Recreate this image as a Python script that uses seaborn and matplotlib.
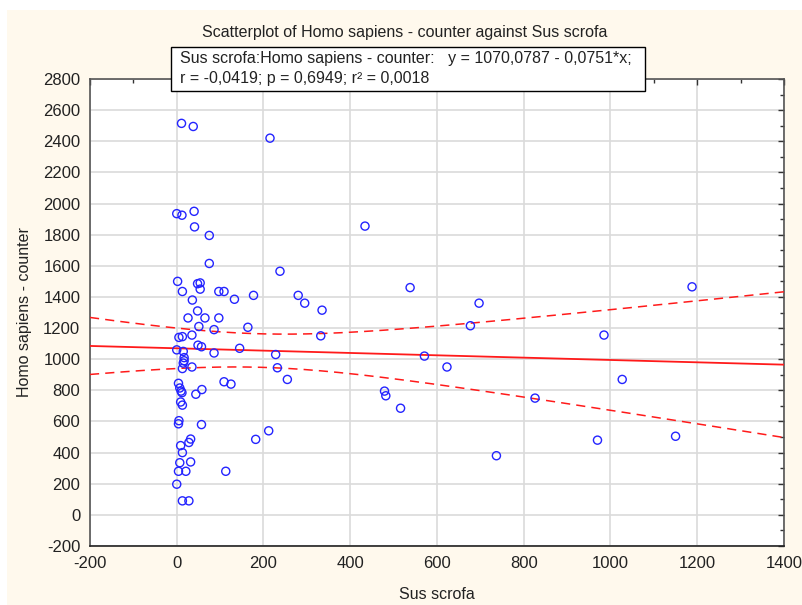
import numpy as np
import pandas as pd
import matplotlib
matplotlib.use("Agg")
import matplotlib.pyplot as plt
from matplotlib.patches import Rectangle
from matplotlib.ticker import MultipleLocator
import seaborn as sns

# Observations: Sus scrofa counts vs Homo sapiens - counter
sus_scrofa = [11, 38, 215, 0, 12, 40, 41, 75, 75, 238, 434, 2, 48, 54, 54, 13,
              97, 109, 177, 280, 295, 335, 538, 1188, 697, 677, 36, 48, 133, 26,
              65, 97, 51, 164, 86, 35, 5, 13, 332, 985, 49, 57, 0, 15, 86, 145,
              228, 571, 17, 17, 15, 13, 35, 232, 623, 255, 1027, 109, 125, 4, 7,
              10, 12, 58, 44, 479, 482, 516, 826, 9, 13, 5, 4, 57, 212, 182, 32,
              28, 9, 13, 970, 1150, 737, 32, 7, 4, 21, 113, 0, 13, 28]
homo_sapiens = [2515, 2495, 2420, 1935, 1925, 1950, 1850, 1795, 1615, 1565, 1855,
                1500, 1485, 1490, 1450, 1435, 1435, 1435, 1410, 1410, 1360, 1315,
                1460, 1465, 1360, 1215, 1380, 1310, 1385, 1265, 1265, 1265, 1210,
                1205, 1190, 1155, 1140, 1145, 1150, 1155, 1090, 1080, 1060, 1050,
                1040, 1070, 1030, 1020, 1010, 990, 975, 940, 950, 945, 950, 870,
                870, 855, 840, 845, 815, 795, 785, 805, 775, 795, 765, 685, 750,
                725, 705, 605, 585, 580, 540, 485, 487, 465, 445, 400, 480, 505,
                380, 340, 335, 280, 280, 280, 197, 90, 90]

# Reported linear fit
intercept = 1070.0787
slope = -0.0751
x_ticks = list(range(-200, 1401, 200))
y_ticks = list(range(-200, 2801, 200))

df = pd.DataFrame({"Sus scrofa": sus_scrofa, "Homo sapiens - counter": homo_sapiens})

# 95% confidence band for the mean prediction around the fitted line
x = np.asarray(sus_scrofa, float)
y = np.asarray(homo_sapiens, float)
n = len(x)
resid = y - (intercept + slope * x)
s = np.sqrt(np.sum(resid ** 2) / (n - 2))
sxx = np.sum((x - x.mean()) ** 2)
t_crit = 1.987
xs = np.linspace(-200, 1400, 200)
fit = intercept + slope * xs
half = t_crit * s * np.sqrt(1.0 / n + (xs - x.mean()) ** 2 / sxx)
band = pd.DataFrame({"x": xs, "fit": fit, "lo": fit - half, "hi": fit + half})

sns.set_style("white")
plt.rcParams["font.family"] = ["Liberation Sans", "DejaVu Sans"]
plt.rcParams["axes.unicode_minus"] = False

fig = plt.figure(figsize=(8.03, 6.05), dpi=100, facecolor="white")
fig.patches.append(Rectangle((7 / 803, 0), 1 - 7 / 803, 1 - 10 / 605,
                             transform=fig.transFigure, facecolor="#FFF9ED",
                             edgecolor="none", zorder=-10))

ax = fig.add_axes([90 / 803, 1 - 546 / 605, (784 - 90) / 803, (546 - 79) / 605])
ax.set_facecolor("white")

sns.scatterplot(data=df, x="Sus scrofa", y="Homo sapiens - counter", ax=ax,
                marker="o", s=34, color="#2424FF", linewidth=1.0, zorder=4)
pts = ax.collections[0]
pts.set_facecolor("none")
pts.set_edgecolor("#2424FF")

sns.lineplot(data=band, x="x", y="fit", ax=ax, color="#FF1A1A", linewidth=1.3, zorder=3)
sns.lineplot(data=band, x="x", y="hi", ax=ax, color="#FF1A1A", linewidth=1.1,
             linestyle=(0, (6, 4)), zorder=3)
sns.lineplot(data=band, x="x", y="lo", ax=ax, color="#FF1A1A", linewidth=1.1,
             linestyle=(0, (6, 4)), zorder=3)

ax.set_xlim(-200, 1400)
ax.set_ylim(-200, 2800)
ax.set_xticks(x_ticks)
ax.set_yticks(y_ticks)
ax.xaxis.set_minor_locator(MultipleLocator(100))
ax.yaxis.set_minor_locator(MultipleLocator(100))
ax.grid(True, which="major", color="#DADADA", linewidth=1.2)
ax.set_axisbelow(True)
ax.tick_params(which="both", direction="in", top=True, right=True,
               color="#333333", labelsize=12, labelcolor="#222222")
ax.tick_params(which="major", length=4, width=1, pad=7)
ax.tick_params(which="minor", length=3, width=1)
for side, sp in ax.spines.items():
    sp.set_visible(True)
    sp.set_color("#555555")
    sp.set_linewidth(1.2)
ax.spines["bottom"].set_color("#222222")

ax.set_xlabel("Sus scrofa", fontsize=11.5, color="#222222", labelpad=12)
ax.set_ylabel("Homo sapiens - counter", fontsize=11.5, color="#222222", labelpad=8)

fig.text(0.5045, 1 - 32 / 605, "Scatterplot of Homo sapiens - counter against Sus scrofa",
         ha="center", va="center", fontsize=11.5, color="#222222")

# Fit summary box
fig.patches.append(Rectangle((171 / 803, 1 - 91 / 605), (645 - 171) / 803, 44 / 605,
                             transform=fig.transFigure, facecolor="white",
                             edgecolor="black", linewidth=1.0, zorder=5))
fig.text(180 / 803, 1 - 58 / 605,
         "Sus scrofa:Homo sapiens - counter:   y = 1070,0787 - 0,0751*x;",
         ha="left", va="center", fontsize=11.5, color="#222222", zorder=6)
fig.text(180 / 803, 1 - 79 / 605, "r = -0,0419; p = 0,6949; r² = 0,0018",
         ha="left", va="center", fontsize=11.5, color="#222222", zorder=6)

fig.savefig("out.png", dpi=100, facecolor=fig.get_facecolor())
